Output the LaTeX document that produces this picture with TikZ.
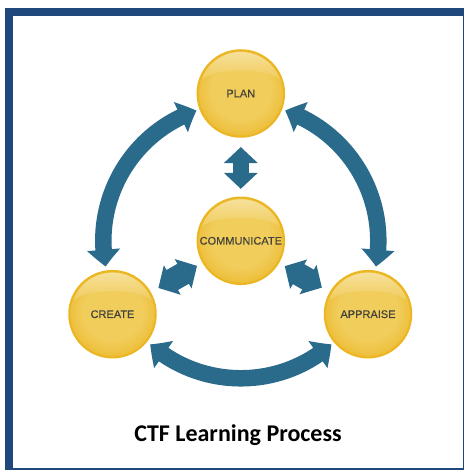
\documentclass[tikz,border=0pt]{standalone}
\usepackage{fontspec}
\setmainfont{Liberation Sans}
\newfontfamily\titlefont{Carlito}
\newfontfamily\labelfont[FakeBold=0.25]{Liberation Sans}
\usetikzlibrary{arrows.meta,bending,calc}
\definecolor{framecol}{HTML}{1F497D}
\definecolor{arrowcol}{HTML}{2A6B8C}
\definecolor{ringcol}{HTML}{EBB622}
\definecolor{ballmid}{HTML}{F1CD5C}
\definecolor{ballbot}{HTML}{EBB524}
\definecolor{glosstop}{HTML}{F7E3A6}
\definecolor{labelcol}{HTML}{44433A}
\pgfdeclareradialshading{ballshade}{\pgfpoint{0bp}{3bp}}{color(0bp)=(ballmid);color(17bp)=(ballmid);color(23bp)=(ballmid!60!ballbot);color(29bp)=(ballbot);color(50bp)=(ballbot)}
\tikzset{
  x=1pt,y=1pt,
  ball/.style={circle,minimum size=86.5pt,inner sep=0pt,line width=2pt,draw=ringcol,
    shading=ballshade,
    font=\labelfont\fontsize{11}{13}\selectfont,text=labelcol},
  gloss/.style={top color=glosstop,bottom color=ballmid},
  ringarrow/.style={draw=arrowcol,line width=16.5pt,
    {Triangle[length=17pt,width=32pt,bend,fill=arrowcol]}-{Triangle[length=17pt,width=32pt,bend,fill=arrowcol]}},
  stubarrow/.style={draw=arrowcol,line width=#1,
    {Triangle[length=16pt,width=33pt,fill=arrowcol]}-{Triangle[length=16pt,width=33pt,fill=arrowcol]}},
  titlestyle/.style={font=\titlefont\bfseries\fontsize{24}{28}\selectfont,text=black,anchor=base,inner sep=0pt}
}
\begin{document}
\begin{tikzpicture}
\useasboundingbox (0,0) rectangle (464,-470);
% frame
\fill[white] (0,0) rectangle (464,-470);
\fill[framecol] (5,-8) rectangle (464,-470);
\fill[white] (13,-16) rectangle (463,-467.7);
% balls
\node[ball] (plan) at (240.8,-93.5) {PLAN};
\node[ball] (comm) at (240.8,-240.8) {COMMUNICATE};
\node[ball] (create) at (112.5,-314.2) {CREATE};
\node[ball] (appraise) at (368,-314.2) {APPRAISE};
\foreach \b in {plan,comm,create,appraise}{
  \shade[gloss,shift={(\b.center)}]
    (-39.07,14) arc[start angle=160.3,end angle=19.7,radius=41.5]
    .. controls (25,26) and (-25,26) .. cycle;
}
% arrows between centre and outer balls
\draw[stubarrow=16pt,shorten <=9.3pt,shorten >=7.7pt] (plan) -- (comm);
\draw[stubarrow=23pt,shorten <=6.2pt,shorten >=8.6pt] (comm) -- (create);
\draw[stubarrow=23pt,shorten <=6.5pt,shorten >=9pt] (comm) -- (appraise);
% ring arrows
\coordinate (ringL) at ($(comm)+(108.8:137.5)$);
\coordinate (ringR) at ($(comm)+(71.2:137.5)$);
\coordinate (ringB) at ($(comm)+(228.8:137.5)$);
\draw[ringarrow] (ringL) arc[start angle=108.8,end angle=190.8,radius=137.5];
\draw[ringarrow] (ringR) arc[start angle=71.2,end angle=-10.8,radius=137.5];
\draw[ringarrow] (ringB) arc[start angle=228.8,end angle=311.2,radius=137.5];
% title
\node[titlestyle] (title) at (238,-441.5) {CTF Learning Process};
\end{tikzpicture}
\end{document}
